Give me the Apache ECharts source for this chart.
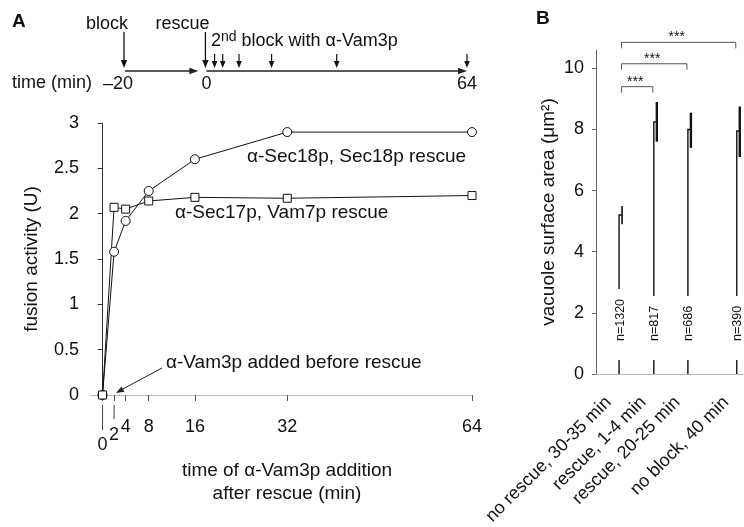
<!DOCTYPE html>
<html><head><meta charset="utf-8">
<script src="https://cdn.jsdelivr.net/npm/echarts@6/dist/echarts.min.js"></script>
<style>html,body{margin:0;padding:0;background:#fff}#c{width:744px;height:527px}</style>
</head><body><div id="c"></div>
<script>
// ---------------- data ----------------
// timeline (top of panel A)
const timelineBigArrowTimes = [-20, 0];
const timelineBigArrowLabels = ['block', 'rescue'];
const secondBlockTimes = [2, 4, 8, 16, 32, 64];
const timelineSpanStarts = [-20, 0];
const timelineSpanEnds = [-2, 64];
const timelineTickValues = [-20, 0, 64];

// panel A
const additionTimes = [0, 2, 4, 8, 16, 32, 64];
const sec18Values = [0, 1.58, 1.92, 2.25, 2.60, 2.90, 2.90];
const sec17Values = [0, 2.07, 2.05, 2.14, 2.18, 2.17, 2.20];

// panel B
const conditions = ['no rescue, 30-35 min', 'rescue, 1-4 min', 'rescue, 20-25 min', 'no block, 40 min'];
const conditionSlots = [0.67, 1.68, 2.67, 4.09];
const areaMeans = [5.2, 8.25, 8.0, 7.95];
const areaLow = [4.9, 7.6, 7.4, 7.1];
const areaHigh = [5.5, 8.9, 8.55, 8.75];
const sampleSizes = ['n=1320', 'n=817', 'n=686', 'n=390'];
const sigFrom = [0, 0, 0];
const sigTo = [1, 2, 3];
const sigLevels = [9.4, 10.15, 10.85];
const sigLabels = ['***', '***', '***'];
const areaTicks = [0, 2, 4, 6, 8, 10];

// ---------------- chart ----------------
const FONT = '"Liberation Sans", Arial, Helvetica, sans-serif';
const INK = '#111';
const chart = echarts.init(document.getElementById('c'));

const leaderDrop = {0: 25, 2: 14};
const labelStagger = {0: 18, 2: 8};

const option = {
  animation: false,
  backgroundColor: '#fff',
  textStyle: {fontFamily: FONT, color: INK},
  grid: [
    {left: 125, top: 31, width: 342, height: 40, outerBoundsMode: 'none'},
    {left: 91, top: 123, width: 381, height: 272, outerBoundsMode: 'none'},
    {left: 596, top: 50, width: 148, height: 324, outerBoundsMode: 'none'}
  ],
  xAxis: [
    {
      gridIndex: 0, type: 'value', min: -20, max: 64,
      axisLine: {show: false}, axisTick: {show: false}, splitLine: {show: false},
      axisLabel: {
        customValues: timelineTickValues, fontSize: 18, color: INK, margin: 4,
        formatter: v => v < 0 ? '{neg|–' + Math.abs(v) + '}' : String(v),
        rich: {neg: {fontSize: 18, color: INK, padding: [0, 14, 0, 0]}}
      }
    },
    {
      gridIndex: 1, type: 'value', min: -2, max: 64, offset: 10,
      axisLine: {show: true, lineStyle: {color: '#aaa', type: 'dotted'}},
      axisTick: {show: true, customValues: additionTimes, length: 6, lineStyle: {color: '#555'}},
      splitLine: {show: false},
      axisLabel: {
        customValues: additionTimes, fontSize: 18, color: INK, margin: 13,
        formatter: v => {
          if (labelStagger[v] === 18) return '{l2|' + v + '}';
          if (labelStagger[v] === 8) return '{l1|' + v + '}';
          return '{l0|' + v + '}';
        },
        rich: {
          l0: {fontSize: 18, color: INK},
          l1: {fontSize: 18, color: INK, padding: [8, 0, 0, 0]},
          l2: {fontSize: 18, color: INK, padding: [18, 0, 0, 0]}
        }
      },
      name: 'time of α-Vam3p addition\nafter rescue (min)',
      nameLocation: 'middle', nameGap: 26,
      nameTextStyle: {fontSize: 19, lineHeight: 23, color: INK, padding: [0, 0, 0, 11]}
    },
    {
      gridIndex: 2, type: 'value', min: 0, max: 4.3,
      axisLine: {show: true, lineStyle: {color: '#aaa', type: 'dotted'}},
      axisTick: {show: false}, splitLine: {show: false},
      axisLabel: {
        customValues: conditionSlots, rotate: 45, fontSize: 18, color: INK, margin: 15,
        padding: [0, 15, 0, 0],
        formatter: v => conditions[conditionSlots.indexOf(v)] || ''
      }
    }
  ],
  yAxis: [
    {gridIndex: 0, type: 'value', min: 0, max: 1, show: false},
    {
      gridIndex: 1, type: 'value', min: 0, max: 3, interval: 0.5,
      axisLine: {show: true, lineStyle: {color: '#333'}},
      axisTick: {show: true, length: 5, lineStyle: {color: '#333'}},
      splitLine: {show: false},
      axisLabel: {fontSize: 18, color: INK, margin: 12},
      name: 'fusion activity (U)', nameLocation: 'middle', nameGap: 50,
      nameTextStyle: {fontSize: 19, color: INK}
    },
    {
      gridIndex: 2, type: 'value', min: 0, max: 10.6, interval: 2,
      axisLine: {show: true, lineStyle: {color: '#666'}},
      axisTick: {show: true, customValues: areaTicks, length: 4, lineStyle: {color: '#666'}},
      splitLine: {show: false},
      axisLabel: {customValues: areaTicks, fontSize: 18, color: INK, margin: 12},
      name: 'vacuole surface area (μm²)', nameLocation: 'middle', nameGap: 38,
      nameTextStyle: {fontSize: 19, color: INK}
    }
  ],
  series: [
    // timeline horizontal arrows
    {
      type: 'custom', xAxisIndex: 0, yAxisIndex: 0, clip: false, silent: true,
      data: timelineSpanStarts.map((s, i) => [s, 0, timelineSpanEnds[i]]),
      renderItem: (params, api) => {
        const a = api.coord([api.value(0), 0]);
        const b = api.coord([api.value(2), 0]);
        return {type: 'group', children: [
          {type: 'line', shape: {x1: a[0], y1: a[1], x2: b[0] - 6, y2: b[1]}, style: {stroke: '#222', lineWidth: 1.3}},
          {type: 'polygon', shape: {points: [[b[0], b[1]], [b[0] - 9, b[1] - 3.2], [b[0] - 9, b[1] + 3.2]]}, style: {fill: '#222'}}
        ]};
      }
    },
    // timeline big arrows (block, rescue)
    {
      type: 'custom', xAxisIndex: 0, yAxisIndex: 0, clip: false, silent: true,
      data: timelineBigArrowTimes.map(t => [t, 0]),
      renderItem: (params, api) => {
        const p = api.coord([api.value(0), 0]);
        const x = p[0] - 1, y = p[1];
        return {type: 'group', children: [
          {type: 'line', shape: {x1: x, y1: y - 39, x2: x, y2: y - 8}, style: {stroke: '#111', lineWidth: 1.3}},
          {type: 'polygon', shape: {points: [[x, y - 3], [x - 3.2, y - 11], [x + 3.2, y - 11]]}, style: {fill: '#111'}},
          {type: 'text', x: x + 4, y: y - 47, style: {text: timelineBigArrowLabels[params.dataIndex], fontSize: 18, fontFamily: FONT, fill: INK, align: 'right', verticalAlign: 'middle'}}
        ]};
      }
    },
    // timeline small arrows (2nd block)
    {
      type: 'custom', xAxisIndex: 0, yAxisIndex: 0, clip: false, silent: true,
      data: secondBlockTimes.map(t => [t, 0]),
      renderItem: (params, api) => {
        const p = api.coord([api.value(0), 0]);
        const x = p[0], y = p[1];
        return {type: 'group', children: [
          {type: 'line', shape: {x1: x, y1: y - 17, x2: x, y2: y - 8}, style: {stroke: '#111', lineWidth: 1.2}},
          {type: 'polygon', shape: {points: [[x, y - 3], [x - 2.8, y - 10], [x + 2.8, y - 10]]}, style: {fill: '#111'}}
        ]};
      }
    },
    // panel A: Sec18p
    {
      type: 'line', xAxisIndex: 1, yAxisIndex: 1, name: 'α-Sec18p, Sec18p rescue',
      data: additionTimes.map((t, i) => [t, sec18Values[i]]),
      symbol: 'circle', symbolSize: 9,
      itemStyle: {color: '#fff', borderColor: '#111', borderWidth: 1},
      lineStyle: {color: '#111', width: 1}
    },
    // panel A: Sec17p
    {
      type: 'line', xAxisIndex: 1, yAxisIndex: 1, name: 'α-Sec17p, Vam7p rescue',
      data: additionTimes.map((t, i) => [t, sec17Values[i]]),
      symbol: 'rect', symbolSize: 8,
      itemStyle: {color: '#fff', borderColor: '#111', borderWidth: 1},
      lineStyle: {color: '#111', width: 1}
    },
    // panel A: staggered tick leaders for 0 and 2
    {
      type: 'custom', xAxisIndex: 1, yAxisIndex: 1, clip: false, silent: true,
      data: additionTimes.filter(t => leaderDrop[t]).map(t => [t, 0]),
      renderItem: (params, api) => {
        const t = api.value(0);
        const p = api.coord([t, 0]);
        return {type: 'line', shape: {x1: p[0], y1: p[1] + 10, x2: p[0], y2: p[1] + 10 + leaderDrop[t]}, style: {stroke: '#444', lineWidth: 1}};
      }
    },
    // panel B: bars with error bars and n labels
    {
      type: 'custom', xAxisIndex: 2, yAxisIndex: 2, clip: false, silent: true,
      data: conditionSlots.map((s, i) => [s, areaMeans[i], areaLow[i], areaHigh[i]]),
      renderItem: (params, api) => {
        const x = api.value(0);
        const base = api.coord([x, 0]);
        const top = api.coord([x, api.value(1)]);
        const lo = api.coord([x, api.value(2)]);
        const hi = api.coord([x, api.value(3)]);
        const bx = base[0];
        return {type: 'group', children: [
          {type: 'polyline', shape: {points: [[bx, base[1]], [bx, top[1]], [bx + 3, top[1]]]}, style: {stroke: '#111', lineWidth: 1.4, fill: null}},
          {type: 'line', shape: {x1: bx + 3, y1: hi[1], x2: bx + 3, y2: lo[1]}, style: {stroke: '#111', lineWidth: params.dataIndex === 0 ? 1.6 : 2.4}},
          {type: 'text', x: bx + 1, y: base[1] - 14, rotation: Math.PI / 2,
            style: {text: sampleSizes[params.dataIndex], fontSize: 12.5, fontFamily: FONT, fill: INK,
              align: 'left', verticalAlign: 'middle', backgroundColor: '#fff', padding: [1, 10, 1, 19]}}
        ]};
      }
    },
    // panel B: significance brackets
    {
      type: 'custom', xAxisIndex: 2, yAxisIndex: 2, clip: false, silent: true,
      data: sigFrom.map((f, i) => [conditionSlots[f], sigLevels[i], conditionSlots[sigTo[i]]]),
      renderItem: (params, api) => {
        const a = api.coord([api.value(0), api.value(1)]);
        const b = api.coord([api.value(2), api.value(1)]);
        const x1 = a[0] + 2.5, x2 = b[0] - 1, y = a[1];
        return {type: 'group', children: [
          {type: 'polyline', shape: {points: [[x1, y + 6], [x1, y], [x2, y], [x2, y + 6]]}, style: {stroke: '#555', lineWidth: 1, fill: null}},
          {type: 'text', x: (x1 + x2) / 2 - 2, y: y - 5, style: {text: sigLabels[params.dataIndex], fontSize: 14, fontFamily: FONT, fill: INK, align: 'center', verticalAlign: 'middle'}}
        ]};
      }
    }
  ],
  graphic: [
    {type: 'text', x: 12, y: 22, style: {text: 'A', fontSize: 19, fontWeight: 'bold', fontFamily: FONT, fill: INK, verticalAlign: 'middle'}},
    {type: 'text', x: 536, y: 19, style: {text: 'B', fontSize: 19, fontWeight: 'bold', fontFamily: FONT, fill: INK, verticalAlign: 'middle'}},
    {type: 'text', x: 211, y: 41, style: {text: '2{s|nd} block with α-Vam3p', fontSize: 18, lineHeight: 22, fontFamily: FONT, fill: INK, verticalAlign: 'middle',
      rich: {s: {fontSize: 14, fontFamily: FONT, fill: INK, verticalAlign: 'top', lineHeight: 14}}}},
    {type: 'text', x: 12, y: 83, style: {text: 'time (min)', fontSize: 18, fontFamily: FONT, fill: INK, verticalAlign: 'middle'}},
    {type: 'text', x: 247, y: 157, style: {text: 'α-Sec18p, Sec18p rescue', fontSize: 19, fontFamily: FONT, fill: INK, verticalAlign: 'middle'}},
    {type: 'text', x: 175, y: 213, style: {text: 'α-Sec17p, Vam7p rescue', fontSize: 19, fontFamily: FONT, fill: INK, verticalAlign: 'middle'}},
    {type: 'text', x: 166, y: 363, style: {text: 'α-Vam3p added before rescue', fontSize: 19, fontFamily: FONT, fill: INK, verticalAlign: 'middle'}},
    {type: 'line', shape: {x1: 162, y1: 368, x2: 121, y2: 390}, style: {stroke: '#222', lineWidth: 1}},
    {type: 'polygon', shape: {points: [[116, 393], [124.5, 391.8], [121.6, 386.5]]}, style: {fill: '#222'}}
  ]
};
chart.setOption(option);
</script>
</body></html>
